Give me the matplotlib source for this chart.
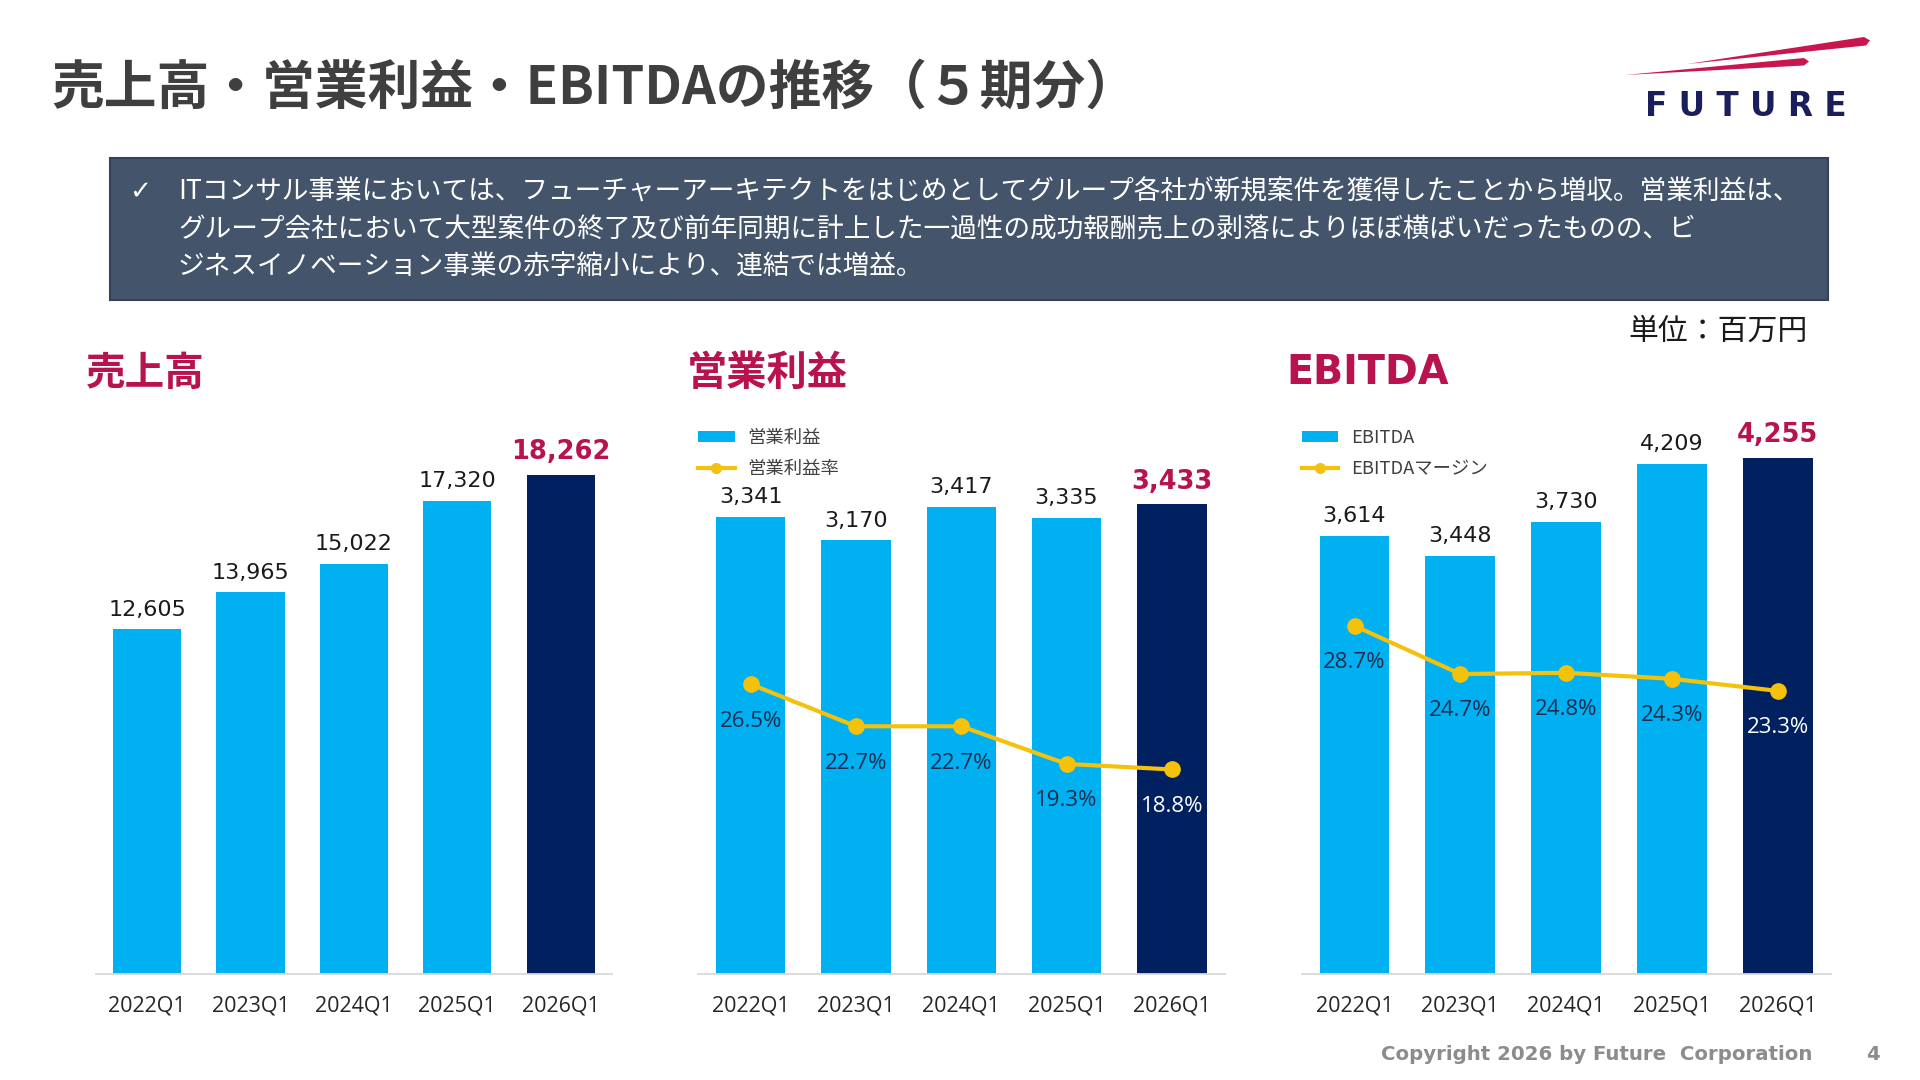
import matplotlib
matplotlib.use("Agg")
import matplotlib.pyplot as plt
from matplotlib.patches import Rectangle, Polygon, Patch
from matplotlib.lines import Line2D

plt.rcParams['font.family'] = ['Noto Sans CJK JP', 'DejaVu Sans']

# ---------------- data ----------------
periods = ['2022Q1', '2023Q1', '2024Q1', '2025Q1', '2026Q1']
sales = [12605, 13965, 15022, 17320, 18262]
op_income = [3341, 3170, 3417, 3335, 3433]
op_margin = [26.5, 22.7, 22.7, 19.3, 18.8]
ebitda = [3614, 3448, 3730, 4209, 4255]
ebitda_margin = [28.7, 24.7, 24.8, 24.3, 23.3]

title_text = '売上高・営業利益・EBITDAの推移（５期分）'
banner_lines = [
    'ITコンサル事業においては、フューチャーアーキテクトをはじめとしてグループ各社が新規案件を獲得したことから増収。営業利益は、',
    'グループ会社において大型案件の終了及び前年同期に計上した一過性の成功報酬売上の剥落によりほぼ横ばいだったものの、ビ',
    'ジネスイノベーション事業の赤字縮小により、連結では増益。',
]
chart_titles = ['売上高', '営業利益', 'EBITDA']
legend_labels = [('営業利益', '営業利益率'), ('EBITDA', 'EBITDAマージン')]
unit_text = '単位：百万円'
footer_text = 'Copyright 2026 by Future  Corporation'
page_no = '4'

# ---------------- style ----------------
BLUE = '#00B0F0'
NAVY = '#002060'
YELLOW = '#F4C20D'
CRIMSON = '#B8124F'
TEXT = '#1A1A1A'
PCT_TEXT = '#1F2D50'

W, H = 1920, 1080
fig = plt.figure(figsize=(19.2, 10.8), dpi=100)


def fx(px):
    return px / W


def fy(py):
    return 1 - py / H


# title
fig.text(fx(51), fy(88), title_text, fontsize=38, fontweight='bold',
         color='#3F3F3F', ha='left', va='center')

# logo
logo_col = '#C8174F'
up = [(1687, 64), (1864, 37), (1870, 40.5), (1866, 45.5)]
lo = [(1625, 75), (1804, 58), (1809, 61.5), (1804, 65.5)]
for pts in (up, lo):
    fig.add_artist(Polygon([(fx(a), fy(b)) for a, b in pts], closed=True,
                           transform=fig.transFigure, facecolor=logo_col,
                           edgecolor='none'))
fig.text(fx(1746), fy(106), 'F U T U R E', fontsize=23.5, fontweight='bold',
         family='DejaVu Sans', color='#1A1F5C', ha='center', va='center')

# banner
fig.add_artist(Rectangle((fx(110), fy(300)), fx(1828) - fx(110), fy(158) - fy(300),
                         transform=fig.transFigure, facecolor='#44546A',
                         edgecolor='#33415C', lw=1.5))
fig.text(fx(140), fy(192), '✓', fontsize=19, color='white', ha='center',
         va='center', family=['DejaVu Sans'])
for i, line in enumerate(banner_lines):
    fig.text(fx(178), fy(192 + 37.5 * i), line, fontsize=19.2, color='white',
             ha='left', va='center')

# unit
fig.text(fx(1808), fy(331), unit_text, fontsize=21.5, color=TEXT,
         ha='right', va='center')

# footer
fig.text(fx(1812), fy(1055), footer_text, fontsize=14.2, fontweight='bold',
         color='#8C8C8C', ha='right', va='center', family=['DejaVu Sans'])
fig.text(fx(1873), fy(1055), page_no, fontsize=14, fontweight='bold',
         color='#8C8C8C', ha='center', va='center', family=['DejaVu Sans'])

# axes geometry (pixels)
axes_px = [(95.5, 612.3), (698, 1224.5), (1301.6, 1830.6)]
top_px, base_px = 416.3, 973.5
ymax = [20416, 4078, 4599]
y2lim = [None, (0.37, 50.7), (-0.17, 46.1)]
title_x = [86, 687, 1286]
title_size = [28.5, 29, 28.5]
series = [sales, op_income, ebitda]
margins = [None, op_margin, ebitda_margin]

x = list(range(len(periods)))
colors = [BLUE] * (len(periods) - 1) + [NAVY]

for k in range(3):
    l, r = axes_px[k]
    ax = fig.add_axes([fx(l), fy(base_px), (r - l) / W, (base_px - top_px) / H])
    vals = series[k]
    ax.bar(x, vals, width=0.66, color=colors, zorder=2)
    ax.set_xlim(-0.5, len(periods) - 0.5)
    ax.set_ylim(0, ymax[k])
    for s in ['top', 'left', 'right']:
        ax.spines[s].set_visible(False)
    ax.spines['bottom'].set_color('#D9D9D9')
    ax.spines['bottom'].set_linewidth(1.3)
    ax.set_yticks([])
    ax.set_xticks(x)
    ax.set_xticklabels(periods, fontsize=15.5, color='#262626', family=['Open Sans'])
    ax.tick_params(axis='x', length=0, pad=15.5)
    ax.patch.set_alpha(0)

    for i, v in enumerate(vals):
        last = i == len(vals) - 1
        ax.annotate(f'{v:,}', (i, v), xytext=(0, 7), textcoords='offset points',
                    ha='center', va='bottom', family=['DejaVu Sans'],
                    fontsize=18.5 if last else 16,
                    fontweight='bold' if last else 'normal',
                    color=CRIMSON if last else TEXT)

    # chart title
    fig.text(fx(title_x[k]), fy(373), chart_titles[k], fontsize=title_size[k],
             fontweight='bold', color=CRIMSON, ha='left', va='center',
             family=['Noto Sans CJK JP'] if k < 2 else ['DejaVu Sans'])

    if margins[k] is not None:
        m = margins[k]
        ax2 = ax.twinx()
        ax2.set_ylim(*y2lim[k])
        ax2.plot(x, m, color=YELLOW, lw=3, marker='o', markersize=11, zorder=3)
        for s in ax2.spines.values():
            s.set_visible(False)
        ax2.set_yticks([])
        for i, v in enumerate(m):
            last = i == len(m) - 1
            ax2.annotate(f'{v:.1f}%', (i, v), xytext=(0, -26.5),
                         textcoords='offset points', ha='center', va='center',
                         fontsize=16, family=['Open Sans'],
                         color='white' if last else PCT_TEXT)

        # legend
        handles = [Patch(facecolor=BLUE, edgecolor='none'),
                   Line2D([0], [0], color=YELLOW, lw=3, marker='o', markersize=7)]
        fig.legend(handles, list(legend_labels[k - 1]), loc='upper left',
                   bbox_to_anchor=(fx(l), fy(429)), frameon=False, fontsize=13.2,
                   handlelength=2.0, handleheight=0.55, handletextpad=0.7,
                   labelspacing=0.72, borderpad=0, borderaxespad=0,
                   labelcolor='#404040')

fig.savefig('out.png', dpi=100)
